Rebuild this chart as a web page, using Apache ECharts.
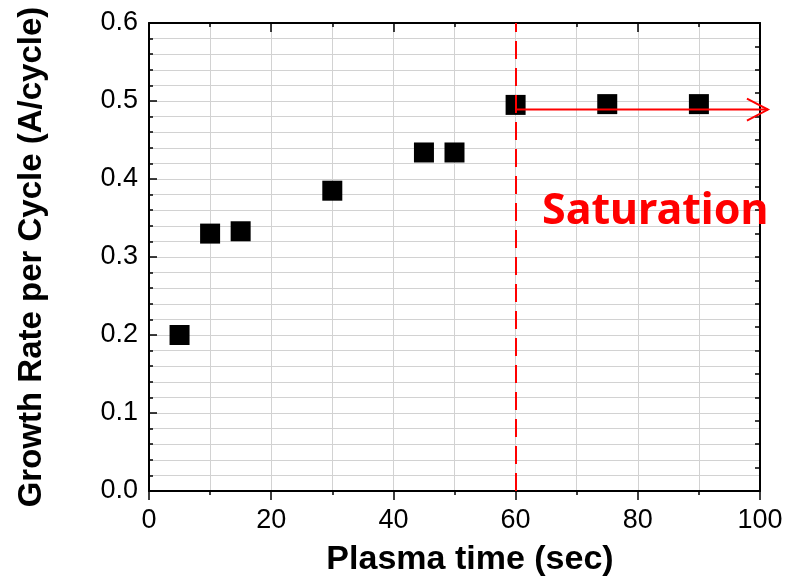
<!DOCTYPE html>
<html>
<head>
<meta charset="utf-8">
<script src="https://cdn.jsdelivr.net/npm/echarts@6/dist/echarts.min.js"></script>
<style>
  html, body { margin: 0; padding: 0; background: #fff; }
  #chart { width: 787px; height: 581px; }
</style>
</head>
<body>
<div id="chart"></div>
<script>
// Plasma exposure time (sec) and measured growth per cycle (A/cycle)
const plasmaTime = [5, 10, 15, 30, 45, 50, 60, 75, 90];
const growthRate = [0.200, 0.330, 0.333, 0.385, 0.434, 0.434, 0.495, 0.496, 0.496];

// Saturation onset marker and the arrow that runs past the right edge
const saturationStart = 60;
const arrowLevel = 0.489;
const arrowEnd = 101.3;
const annotationText = 'Saturation';

const GRID_COLOR = '#d2d2d2';
const FONT = '"Liberation Sans", Arial, sans-serif';

const chart = echarts.init(document.getElementById('chart'), null, { renderer: 'canvas' });

const axisLine = { show: true, onZero: false, lineStyle: { color: '#000', width: 2 } };

chart.setOption({
  animation: false,
  backgroundColor: '#fff',
  grid: { left: 149, right: 27, top: 23, bottom: 90, containLabel: false, outerBoundsMode: 'none' },
  xAxis: [
    {
      type: 'value', position: 'bottom', min: 0, max: 100, interval: 20,
      axisLine: axisLine,
      axisTick: { show: true, inside: false, length: 9, lineStyle: { color: '#000', width: 1.5 } },
      minorTick: { show: true, splitNumber: 2, length: 4, lineStyle: { color: '#000', width: 1.5 } },
      splitLine: { show: true, lineStyle: { color: GRID_COLOR, width: 1 } },
      minorSplitLine: { show: true, lineStyle: { color: GRID_COLOR, width: 1 } },
      axisLabel: { color: '#000', fontSize: 27, fontFamily: FONT, margin: 16 },
      name: 'Plasma time (sec)',
      nameLocation: 'middle',
      nameGap: 52,
      nameTextStyle: { color: '#000', fontSize: 34, fontWeight: 'bold', fontFamily: FONT, padding: [0, 0, 0, 31] }
    },
    {
      type: 'value', position: 'top', min: 0, max: 100, interval: 20,
      axisLine: axisLine,
      axisTick: { show: true, inside: true, length: 9, lineStyle: { color: '#000', width: 1.5 } },
      minorTick: { show: true, splitNumber: 2, length: 4, lineStyle: { color: '#000', width: 1.5 } },
      splitLine: { show: false },
      axisLabel: { show: false }
    }
  ],
  yAxis: [
    {
      type: 'value', position: 'left', min: 0, max: 0.6, interval: 0.1,
      axisLine: axisLine,
      axisTick: { show: true, inside: true, length: 8, lineStyle: { color: '#000', width: 1.5 } },
      minorTick: { show: true, splitNumber: 5, length: 4, lineStyle: { color: '#000', width: 1.5 } },
      splitLine: { show: true, lineStyle: { color: GRID_COLOR, width: 1 } },
      minorSplitLine: { show: true, lineStyle: { color: GRID_COLOR, width: 1 } },
      axisLabel: {
        color: '#000', fontSize: 27, fontFamily: FONT, margin: 11,
        formatter: v => v.toFixed(1)
      },
      name: 'Growth Rate per Cycle (A/cycle)',
      nameLocation: 'middle',
      nameGap: 101,
      nameTextStyle: { color: '#000', fontSize: 33, fontWeight: 'bold', fontFamily: FONT }
    },
    {
      type: 'value', position: 'right', min: 0, max: 0.6, interval: 0.03,
      axisLine: axisLine,
      axisTick: { show: true, inside: true, length: 5, lineStyle: { color: '#000', width: 1.5 } },
      splitLine: { show: false },
      axisLabel: { show: false }
    }
  ],
  series: [
    {
      type: 'scatter',
      xAxisIndex: 0, yAxisIndex: 0,
      symbol: 'rect',
      symbolSize: 20,
      itemStyle: { color: '#000', opacity: 1 },
      data: plasmaTime.map((t, i) => [t, growthRate[i]]),
      z: 3,
      markLine: {
        silent: true,
        symbol: 'none',
        label: { show: false },
        lineStyle: { color: '#ff0000', width: 2, type: [18, 9], opacity: 1 },
        data: [{ xAxis: saturationStart }],
        z: 5
      }
    },
    {
      type: 'custom',
      xAxisIndex: 0, yAxisIndex: 0,
      clip: false,
      silent: true,
      z: 6,
      data: [[saturationStart, arrowLevel, arrowEnd]],
      renderItem: function (params, api) {
        const a = api.coord([api.value(0), api.value(1)]);
        const b = api.coord([api.value(2), api.value(1)]);
        const style = { stroke: '#ff0000', lineWidth: 2, fill: null };
        return {
          type: 'group',
          children: [
            { type: 'line', shape: { x1: a[0], y1: a[1], x2: b[0], y2: b[1] }, style: style },
            { type: 'polyline', shape: { points: [[b[0] - 21, b[1] - 11], [b[0], b[1]], [b[0] - 21, b[1] + 11]] }, style: style }
          ]
        };
      }
    }
  ],
  graphic: [
    {
      type: 'text',
      left: 542,
      top: 190,
      z: 10,
      style: {
        text: annotationText,
        fill: '#ff0000',
        font: 'bold 43px "Noto Sans", "Open Sans", sans-serif'
      }
    }
  ]
});
</script>
</body>
</html>
